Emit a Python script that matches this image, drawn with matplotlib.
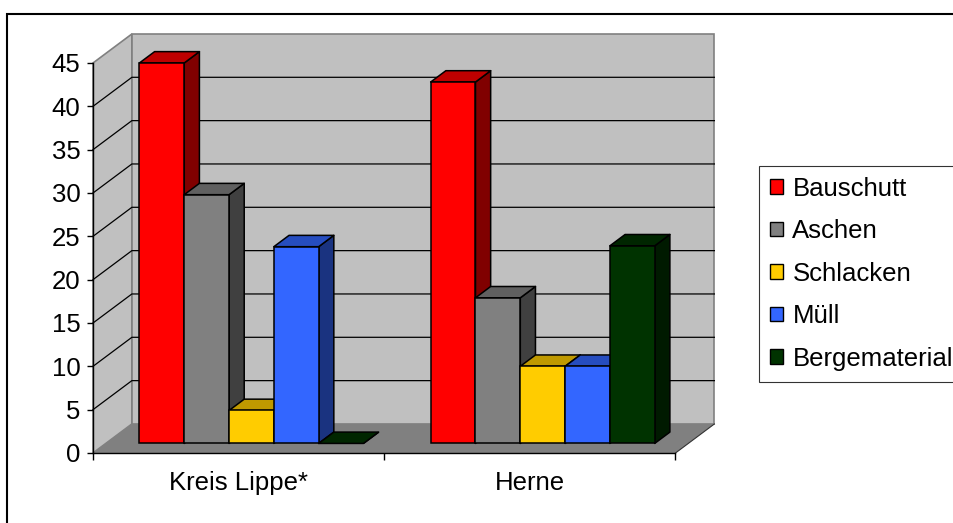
import matplotlib
matplotlib.use("Agg")
import matplotlib.pyplot as plt
from matplotlib.patches import Polygon, Patch, Rectangle

plt.rcParams['font.family'] = ['Liberation Sans', 'DejaVu Sans']

categories = ["Kreis Lippe*", "Herne"]
series = ["Bauschutt", "Aschen", "Schlacken", "Müll", "Bergematerial"]
bauschutt = [43.9, 41.7]
aschen = [28.7, 16.8]
schlacken = [3.8, 8.9]
muell = [22.7, 8.9]
bergematerial = [0.0, 22.8]
yticks = list(range(0, 50, 5))

front_colors = ["#FF0000", "#808080", "#FFCC00", "#3366FF", "#003300"]
FS = 18.5


def shade(hexcol, k):
    r, g, b = (int(hexcol[i:i + 2], 16) for i in (1, 3, 5))
    return (r * k / 255, g * k / 255, b * k / 255)


def main():
    values = [bauschutt, aschen, schlacken, muell, bergematerial]

    fig = plt.figure(figsize=(9.54, 5.23), dpi=100)
    ax = fig.add_axes([93 / 954, 1 - 453 / 523, 582.5 / 954, 390 / 523])
    ax.set_xlim(0, 2)
    ax.set_ylim(0, 45)
    ax.patch.set_visible(False)

    # oblique depth vector of the whole plot box, in data units
    DX, DY = 0.1335, 3.35
    f0, fd = 0.33, 0.39      # bar front plane and bar depth, fraction of DX/DY
    ymax = 45

    # walls and floor
    side_wall = Polygon([(0, 0), (0, ymax), (DX, ymax + DY), (DX, DY)],
                        closed=True, fc="#C0C0C0", ec="#808080", lw=1.2,
                        clip_on=False, zorder=0.5)
    back_wall = Polygon([(DX, DY), (DX, ymax + DY), (2 + DX, ymax + DY), (2 + DX, DY)],
                        closed=True, fc="#C0C0C0", ec="#808080", lw=1.2,
                        clip_on=False, zorder=0.5)
    floor = Polygon([(0, 0), (2, 0), (2 + DX, DY), (DX, DY)],
                    closed=True, fc="#808080", ec="none", clip_on=False, zorder=0.6)
    ax.add_patch(side_wall)
    ax.add_patch(back_wall)
    ax.add_patch(floor)
    ax.plot([2, 2 + DX], [0, DY], color="#333333", lw=0.8, clip_on=False, zorder=0.7)

    # gridlines: diagonal on side wall, then across the back wall
    for v in yticks[1:-1]:
        ax.plot([0, DX, 2 + DX], [v, v + DY, v + DY], color="black", lw=0.9,
                clip_on=False, zorder=0.8)

    # 3d-looking bars
    w = 1 / 6.5
    ox, oy = f0 * DX, f0 * DY
    ddx, ddy = fd * DX, fd * DY
    z = 2
    for c in range(len(categories)):
        for i, vals in enumerate(values):
            v = vals[c]
            xl = c + (1 - len(series) * w) / 2 + i * w + ox
            xr = xl + w
            col = front_colors[i]
            side = Polygon([(xr, oy), (xr + ddx, oy + ddy), (xr + ddx, oy + v + ddy), (xr, oy + v)],
                           closed=True, fc=shade(col, 0.5), ec="black", lw=1.1,
                           joinstyle="round", clip_on=False, zorder=z)
            top = Polygon([(xl, oy + v), (xr, oy + v), (xr + ddx, oy + v + ddy), (xl + ddx, oy + v + ddy)],
                          closed=True, fc=shade(col, 0.75), ec="black", lw=1.1,
                          joinstyle="round", clip_on=False, zorder=z + 0.1)
            ax.add_patch(side)
            ax.add_patch(top)
            if v > 0:
                ax.bar(xl, v, width=w, bottom=oy, align="edge", color=col,
                       edgecolor="black", linewidth=1.1, clip_on=False, zorder=z + 0.2)
            z += 1

    # axes
    for s in ("top", "right"):
        ax.spines[s].set_visible(False)
    for s in ("left", "bottom"):
        ax.spines[s].set_color("black")
        ax.spines[s].set_linewidth(1.0)
        ax.spines[s].set_zorder(50)
    ax.set_yticks(yticks)
    ax.tick_params(axis="y", length=4, width=1, pad=5, labelsize=FS)
    ax.set_xticks([0, 1, 2])
    ax.set_xticklabels([])
    ax.tick_params(axis="x", which="major", length=5, width=1)
    ax.set_xticks([0.5, 1.5], minor=True)
    ax.set_xticklabels(categories, minor=True)
    ax.tick_params(axis="x", which="minor", length=0, pad=13, labelsize=FS)

    handles = [Patch(facecolor=c, edgecolor="black", linewidth=1.0) for c in front_colors]
    leg = fig.legend(handles, series, loc="upper left",
                     bbox_to_anchor=(759 / 954, 1 - 166 / 523), borderaxespad=0,
                     fontsize=FS, frameon=True, fancybox=False, shadow=False,
                     handlelength=0.5, handleheight=0.5, handletextpad=0.38,
                     labelspacing=0.72, borderpad=0.42)
    leg.get_frame().set_edgecolor("black")
    leg.get_frame().set_linewidth(0.8)

    # outer chart border
    fig.add_artist(Rectangle((7 / 954, -0.1), 1.2, 1.1 - 14 / 523, transform=fig.transFigure,
                             fill=False, ec="black", lw=1.5))

    fig.savefig("out.png", dpi=100)


if __name__ == "__main__":
    main()
